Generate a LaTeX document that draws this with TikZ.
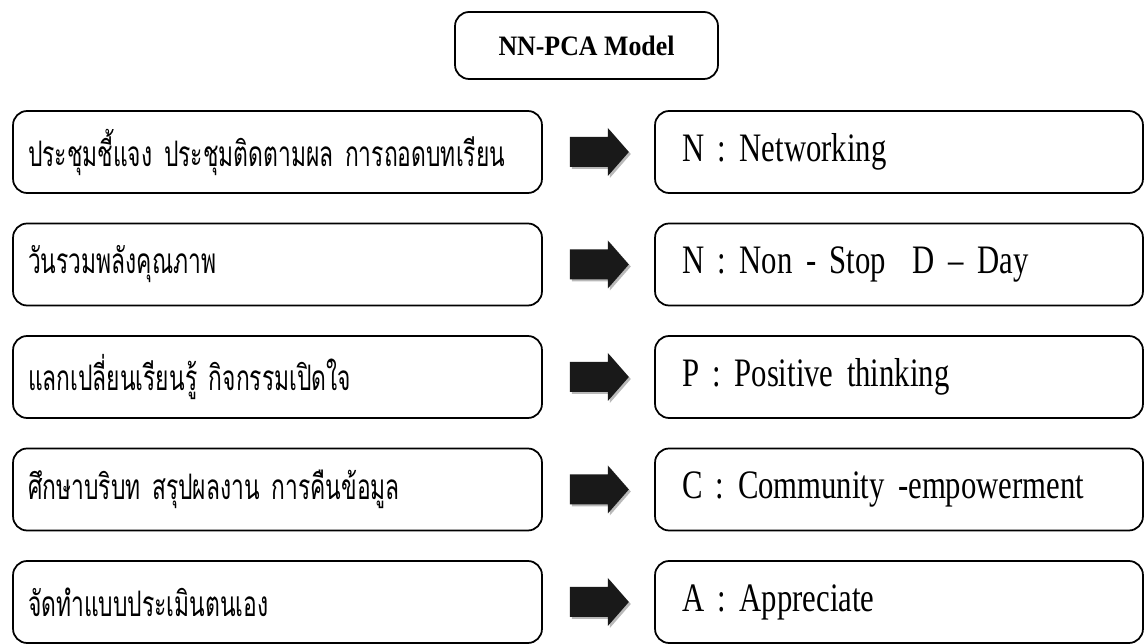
\documentclass[tikz,border=0pt]{standalone}
\usepackage{fontspec}
\setmainfont{Liberation Serif}
\newfontfamily\thaifont[Script=Thai,FakeStretch=0.65,WordSpace=0.8]{Loma}
\newfontfamily\narrowserif[FakeStretch=0.76]{Liberation Serif}
\newfontfamily\titleserif[FakeStretch=0.92]{Liberation Serif}
\usetikzlibrary{calc}

\tikzset{
  box/.style={draw, line width=1pt, rounded corners=8pt, inner sep=0pt,
    minimum height=1.64cm, align=left},
  lbox/.style={box, minimum width=10.58cm, text width=9.98cm,
    font=\thaifont\fontsize{20}{24}\selectfont},
  rbox/.style={box, minimum width=9.76cm, text width=8.68cm,
    font=\narrowserif\fontsize{23}{27}\selectfont},
  modelbox/.style={draw, line width=1pt, rounded corners=8pt,
    minimum width=5.26cm, minimum height=1.34cm,
    font=\titleserif\bfseries\fontsize{16}{19}\selectfont}
}

\begin{document}
\begin{tikzpicture}[x=0.02cm, y=-0.02cm]
            \useasboundingbox (0,0) rectangle (1147,644);

            \node (M) at (586.5,45.5) [modelbox] {NN-PCA Model};

            \foreach \i/\lt/\rt in {
                1/ประชุมชี้แจง ประชุมติดตามผล การถอดบทเรียน/N : Networking,
                2/วันรวมพลังคุณภาพ/N : Non - Stop\ \ D – Day,
                3/แลกเปลี่ยนเรียนรู้ กิจกรรมเปิดใจ/P : Positive thinking,
                4/ศึกษาบริบท สรุปผลงาน การคืนข้อมูล/C : Community -empowerment,
                5/จัดทำแบบประเมินตนเอง/A : Appreciate}
                {
                    \node (L\i) at (277.5,{152+112.5*(\i-1)}) [lbox] {\mbox{\lt}};
                    \node (R\i) at (899,{152+112.5*(\i-1)}) [rbox] {\mbox{\rt}};
                    \fill [gray!55] ($(L\i.east)+(29,-13)$) -- ++(38,0) -- ++(0,-9)
                        -- ++(21,24) -- ++(-21,24) -- ++(0,-9) -- ++(-38,0) -- cycle;
                    \fill [black!90] ($(L\i.east)+(27,-15)$) -- ++(38,0) -- ++(0,-9)
                        -- ++(21,24) -- ++(-21,24) -- ++(0,-9) -- ++(-38,0) -- cycle;
                }

        \end{tikzpicture}
\end{document}
